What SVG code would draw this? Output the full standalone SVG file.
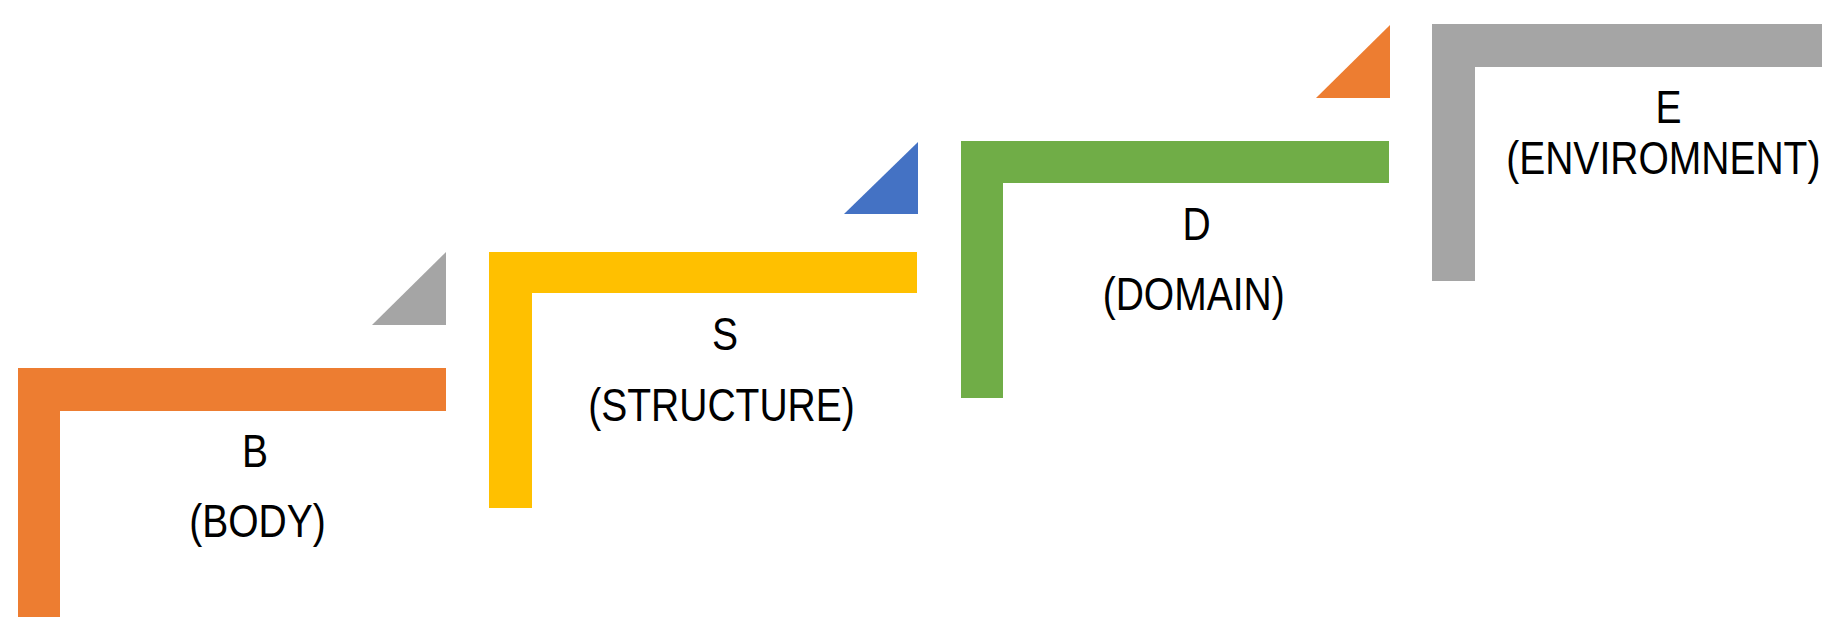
<svg xmlns="http://www.w3.org/2000/svg" width="1822" height="617" viewBox="0 0 1822 617">
<style>
.lbl{font-family:"Liberation Sans",Arial,sans-serif;font-size:47px;fill:#000;text-anchor:middle}
</style>
<rect x="0" y="0" width="1822" height="617" fill="#ffffff"/>
<g id="step-body">
<path d="M18,368 H446 V411 H60 V617 H18 Z" fill="#ED7D31"/>
<text class="lbl" transform="translate(255,467) scale(0.83,1)">B</text>
<text class="lbl" transform="translate(257.5,537) scale(0.83,1)">(BODY)</text>
</g>
<g id="step-structure">
<path d="M489,252 H917 V293 H532 V508 H489 Z" fill="#FFC000"/>
<text class="lbl" transform="translate(725,350) scale(0.83,1)">S</text>
<text class="lbl" transform="translate(721.5,421) scale(0.83,1)">(STRUCTURE)</text>
</g>
<g id="step-domain">
<path d="M961,141 H1389 V183 H1003 V398 H961 Z" fill="#70AD47"/>
<text class="lbl" transform="translate(1196.5,239.5) scale(0.83,1)">D</text>
<text class="lbl" transform="translate(1193.7,309.5) scale(0.83,1)">(DOMAIN)</text>
</g>
<g id="step-environment">
<path d="M1432,24 H1822 V67 H1475 V281 H1432 Z" fill="#A5A5A5"/>
<text class="lbl" transform="translate(1668.5,122.7) scale(0.83,1)">E</text>
<text class="lbl" transform="translate(1663.3,174) scale(0.83,1)">(ENVIROMNENT)</text>
</g>
<g id="connectors">
<polygon points="446,252 446,325 372,325" fill="#A5A5A5"/>
<polygon points="918,142 918,214 844,214" fill="#4472C4"/>
<polygon points="1390,25 1390,98 1316,98" fill="#ED7D31"/>
</g>
</svg>
